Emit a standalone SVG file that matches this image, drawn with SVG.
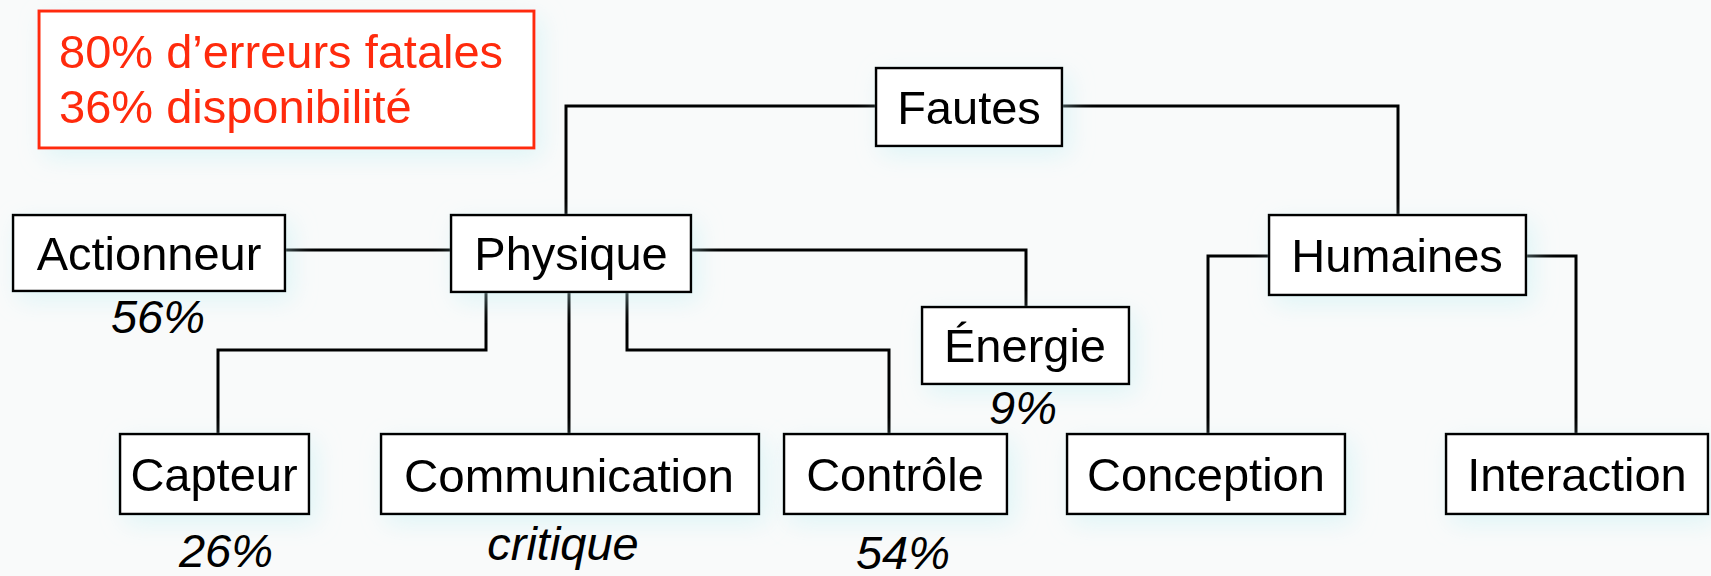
<svg xmlns="http://www.w3.org/2000/svg" width="1711" height="576" viewBox="0 0 1711 576">
  <defs>
    <filter id="glow" x="-20%" y="-30%" width="140%" height="170%">
      <feGaussianBlur in="SourceAlpha" stdDeviation="12" result="b"/>
      <feOffset dx="6" dy="8" in="b" result="o"/>
      <feFlood flood-color="#bfeff3" flood-opacity="0.45"/>
      <feComposite in2="o" operator="in" result="s"/>
      <feMerge><feMergeNode in="s"/><feMergeNode in="SourceGraphic"/></feMerge>
    </filter>
    <style>
      .box { fill: #ffffff; stroke: #000000; stroke-width: 2.5; }
      .note { fill: #ffffff; stroke: #ff2a0a; stroke-width: 3; }
      .lbl { font-family: "Liberation Sans", Arial, sans-serif; font-size: 47px; fill: #000000; text-anchor: middle; }
      .pct { font-family: "Liberation Sans", Arial, sans-serif; font-size: 47px; font-style: italic; fill: #000000; text-anchor: middle; }
      .red { font-family: "Liberation Sans", Arial, sans-serif; font-size: 47px; fill: #ff2a0a; }
      .wire { fill: none; stroke: #000000; stroke-width: 3; stroke-linejoin: miter; }
    </style>
  </defs>

  <rect width="1711" height="576" fill="#f9fafa"/>

  <!-- connectors -->
  <g id="connectors" class="wire">
    <path d="M876 106 H566 V215"/>
    <path d="M1062 106 H1398 V215"/>
    <path d="M285 250 H451"/>
    <path d="M691 250 H1026 V307"/>
    <path d="M486 292 V350 H218 V434"/>
    <path d="M569 292 V434"/>
    <path d="M627 292 V350 H889 V434"/>
    <path d="M1269 256 H1208 V434"/>
    <path d="M1526 256 H1576 V434"/>
  </g>

  <!-- summary note -->
  <g id="note" filter="url(#glow)">
    <rect class="note" x="39" y="11" width="495" height="137"/>
    <text class="red" x="59" y="68">80% d’erreurs fatales</text>
    <text class="red" x="59" y="123">36% disponibilité</text>
  </g>

  <g id="fautes" filter="url(#glow)">
    <rect class="box" x="876" y="68" width="186" height="78"/>
    <text class="lbl" x="969" y="124">Fautes</text>
  </g>

  <g id="actionneur" filter="url(#glow)">
    <rect class="box" x="13" y="215" width="272" height="76"/>
    <text class="lbl" x="149" y="270">Actionneur</text>
  </g>
  <text class="pct" x="158" y="333">56%</text>

  <g id="physique" filter="url(#glow)">
    <rect class="box" x="451" y="215" width="240" height="77"/>
    <text class="lbl" x="571" y="270">Physique</text>
  </g>

  <g id="energie" filter="url(#glow)">
    <rect class="box" x="922" y="307" width="207" height="77"/>
    <text class="lbl" x="1025" y="362">Énergie</text>
  </g>
  <text class="pct" x="1023" y="424">9%</text>

  <g id="humaines" filter="url(#glow)">
    <rect class="box" x="1269" y="215" width="257" height="80"/>
    <text class="lbl" x="1397" y="272">Humaines</text>
  </g>

  <g id="capteur" filter="url(#glow)">
    <rect class="box" x="120" y="434" width="189" height="80"/>
    <text class="lbl" x="214" y="491">Capteur</text>
  </g>
  <text class="pct" x="226" y="567">26%</text>

  <g id="communication" filter="url(#glow)">
    <rect class="box" x="381" y="434" width="378" height="80"/>
    <text class="lbl" x="569" y="492" textLength="330" lengthAdjust="spacingAndGlyphs">Communication</text>
  </g>
  <text class="pct" x="563" y="560">critique</text>

  <g id="controle" filter="url(#glow)">
    <rect class="box" x="784" y="434" width="223" height="80"/>
    <text class="lbl" x="895" y="491">Contrôle</text>
  </g>
  <text class="pct" x="903" y="569">54%</text>

  <g id="conception" filter="url(#glow)">
    <rect class="box" x="1067" y="434" width="278" height="80"/>
    <text class="lbl" x="1206" y="491">Conception</text>
  </g>

  <g id="interaction" filter="url(#glow)">
    <rect class="box" x="1446" y="434" width="262" height="80"/>
    <text class="lbl" x="1577" y="491">Interaction</text>
  </g>
</svg>
